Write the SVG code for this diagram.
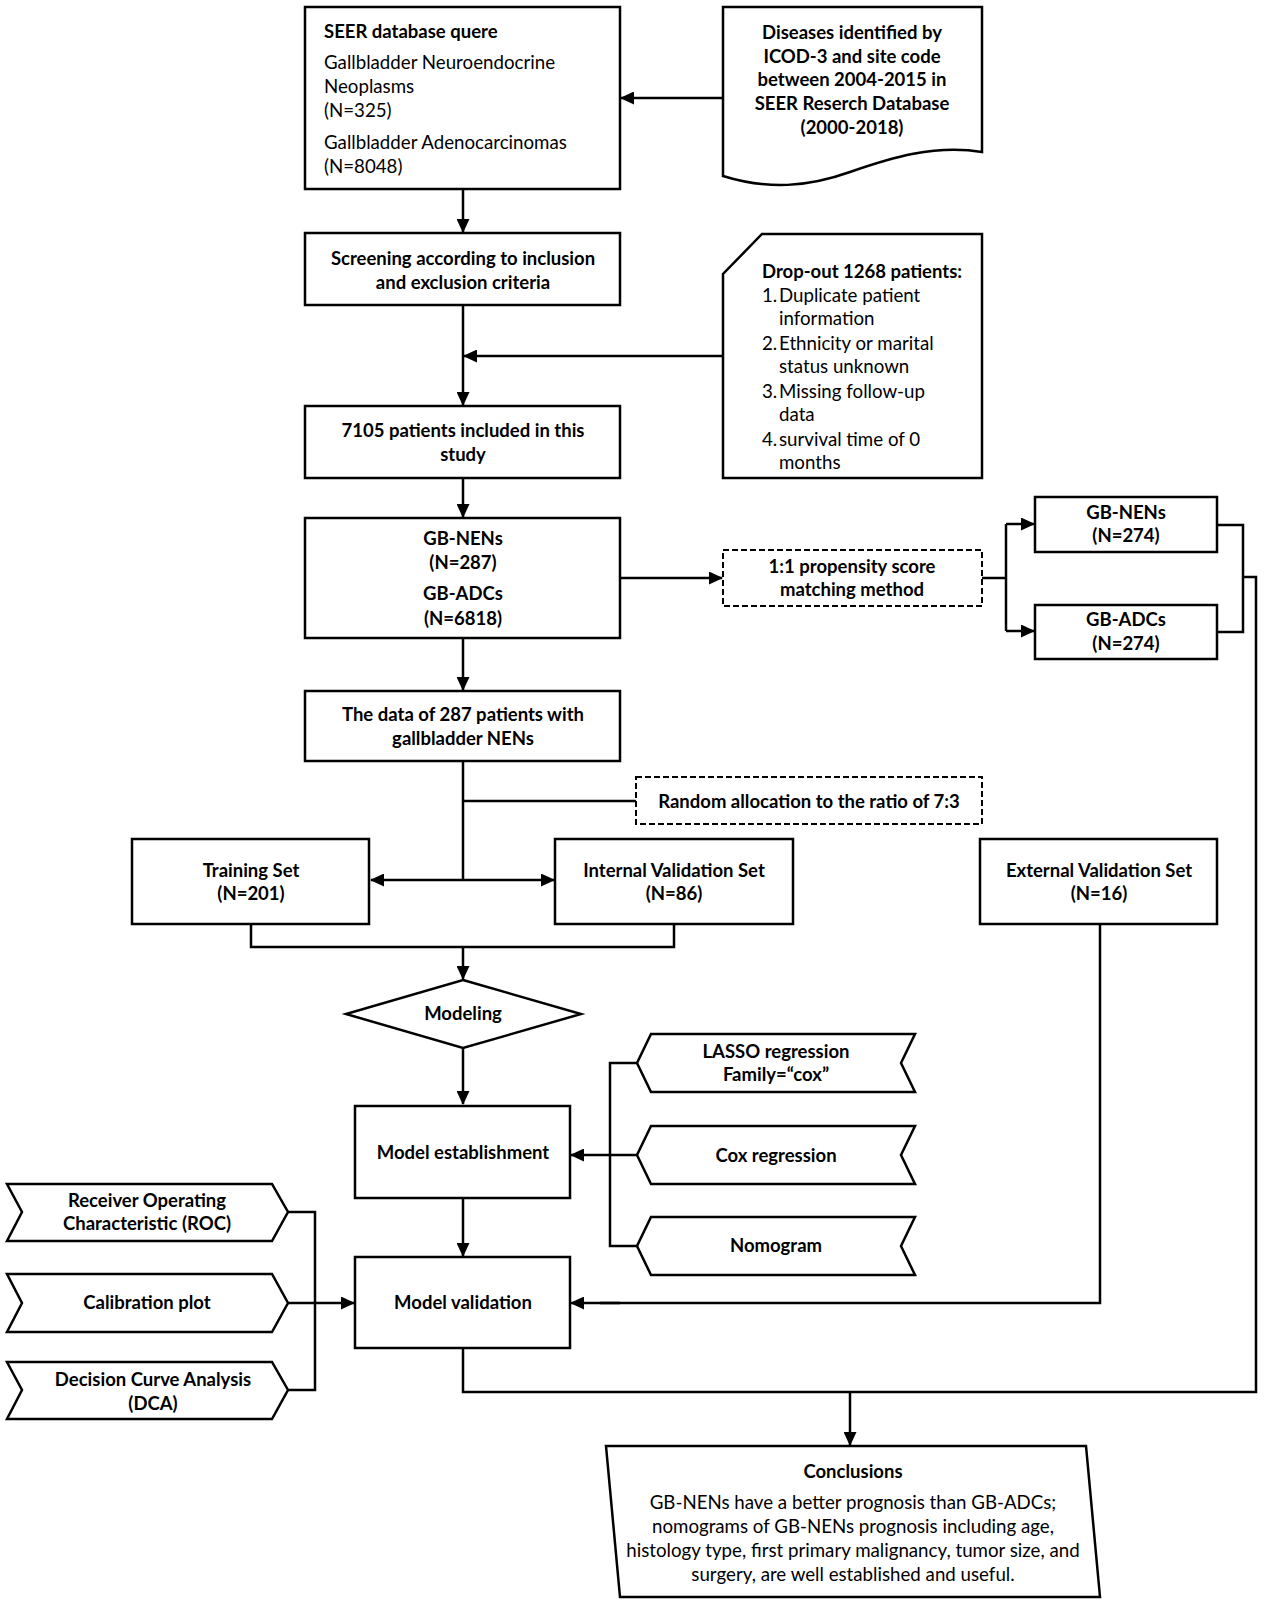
<svg xmlns="http://www.w3.org/2000/svg" width="1265" height="1606" viewBox="0 0 1265 1606">
<style>
.box{fill:#fff;stroke:#000;stroke-width:2.5}
.dash{fill:#fff;stroke:#000;stroke-width:2;stroke-dasharray:6 3}
.ln{fill:none;stroke:#000;stroke-width:2.5}
.b{font-family:Lato,"Liberation Sans",sans-serif;font-weight:bold;font-size:18.5px;fill:#000}
.r{font-family:Lato,"Liberation Sans",sans-serif;font-size:18.7px;fill:#000}
.c{text-anchor:middle}
</style>
<defs>
<marker id="ah" markerUnits="userSpaceOnUse" markerWidth="14" markerHeight="13" refX="13" refY="6.5" orient="auto-start-reverse" viewBox="0 0 14 13">
<path d="M0,0 L14,6.5 L0,13 Z" fill="#000"/>
</marker>
</defs>
<rect width="1265" height="1606" fill="#fff"/>

<g id="connectors">
<line class="ln" x1="723" y1="98" x2="621" y2="98" marker-end="url(#ah)"/>
<line class="ln" x1="463" y1="189" x2="463" y2="232" marker-end="url(#ah)"/>
<line class="ln" x1="463" y1="305" x2="463" y2="405" marker-end="url(#ah)"/>
<line class="ln" x1="723" y1="356" x2="464" y2="356" marker-end="url(#ah)"/>
<line class="ln" x1="463" y1="478" x2="463" y2="517" marker-end="url(#ah)"/>
<line class="ln" x1="620" y1="578" x2="722" y2="578" marker-end="url(#ah)"/>
<polyline class="ln" points="982,578 1006,578"/>
<polyline class="ln" points="1006,524 1006,631"/>
<line class="ln" x1="1006" y1="524" x2="1034" y2="524" marker-end="url(#ah)"/>
<line class="ln" x1="1006" y1="631" x2="1034" y2="631" marker-end="url(#ah)"/>
<polyline class="ln" points="1217,525 1243,525 1243,632 1217,632"/>
<polyline class="ln" points="1243,577 1256,577 1256,1392 463,1392 463,1348"/>
<line class="ln" x1="850" y1="1392" x2="850" y2="1445" marker-end="url(#ah)"/>
<line class="ln" x1="463" y1="638" x2="463" y2="690" marker-end="url(#ah)"/>
<polyline class="ln" points="463,761 463,880"/>
<line class="ln" x1="463" y1="801" x2="636" y2="801"/>
<line class="ln" x1="371" y1="880" x2="554" y2="880" marker-start="url(#ah)" marker-end="url(#ah)"/>
<polyline class="ln" points="251,924 251,947 674,947 674,924"/>
<line class="ln" x1="463" y1="947" x2="463" y2="979" marker-end="url(#ah)"/>
<line class="ln" x1="463" y1="1048" x2="463" y2="1104" marker-end="url(#ah)"/>
<line class="ln" x1="463" y1="1199" x2="463" y2="1256" marker-end="url(#ah)"/>
<polyline class="ln" points="637,1063 610,1063 610,1246 637,1246"/>
<line class="ln" x1="637" y1="1155" x2="571" y2="1155" marker-end="url(#ah)"/>
<polyline class="ln" points="288,1212 315,1212 315,1390 288,1390"/>
<line class="ln" x1="288" y1="1303" x2="354" y2="1303" marker-end="url(#ah)"/>
<polyline class="ln" points="1100,924 1100,1303 600,1303"/>
<line class="ln" x1="620" y1="1303" x2="571" y2="1303" marker-end="url(#ah)"/>
</g>

<g id="seer">
<rect class="box" x="305" y="7" width="315" height="182"/>
<text class="b" x="324" y="38">SEER database quere</text>
<text class="r" x="324" y="69">Gallbladder Neuroendocrine</text>
<text class="r" x="324" y="93">Neoplasms</text>
<text class="r" x="324" y="117">(N=325)</text>
<text class="r" x="324" y="149">Gallbladder Adenocarcinomas</text>
<text class="r" x="324" y="173">(N=8048)</text>
</g>

<g id="diseases">
<path class="box" d="M723,7 H982 V152 C935,144 890,158 850,172 C808,187 768,190 723,176 Z"/>
<text class="b c" x="852" y="39">Diseases identified by</text>
<text class="b c" x="852" y="63">ICOD-3 and site code</text>
<text class="b c" x="852" y="86">between 2004-2015 in</text>
<text class="b c" x="852" y="110">SEER Reserch Database</text>
<text class="b c" x="852" y="134">(2000-2018)</text>
</g>

<g id="screening">
<rect class="box" x="305" y="233" width="315" height="72"/>
<text class="b c" x="463" y="265">Screening according to inclusion</text>
<text class="b c" x="463" y="289">and exclusion criteria</text>
</g>

<g id="dropout">
<path class="box" d="M762,234 H982 V478 H723 V274 Z"/>
<text class="b" x="762" y="278">Drop-out 1268 patients:</text>
<text class="r" x="762" y="302">1.</text><text class="r" x="779" y="302">Duplicate patient</text>
<text class="r" x="779" y="325">information</text>
<text class="r" x="762" y="350">2.</text><text class="r" x="779" y="350">Ethnicity or marital</text>
<text class="r" x="779" y="373">status unknown</text>
<text class="r" x="762" y="398">3.</text><text class="r" x="779" y="398">Missing follow-up</text>
<text class="r" x="779" y="421">data</text>
<text class="r" x="762" y="446">4.</text><text class="r" x="779" y="446">survival time of 0</text>
<text class="r" x="779" y="469">months</text>
</g>

<g id="included">
<rect class="box" x="305" y="406" width="315" height="72"/>
<text class="b c" x="463" y="437">7105 patients included in this</text>
<text class="b c" x="463" y="461">study</text>
</g>

<g id="groups">
<rect class="box" x="305" y="518" width="315" height="120"/>
<text class="b c" x="463" y="545">GB-NENs</text>
<text class="b c" x="463" y="569">(N=287)</text>
<text class="b c" x="463" y="600">GB-ADCs</text>
<text class="b c" x="463" y="625">(N=6818)</text>
</g>

<g id="psm">
<rect class="dash" x="723" y="550" width="259" height="56"/>
<text class="b c" x="852" y="573">1:1 propensity score</text>
<text class="b c" x="852" y="596">matching method</text>
</g>

<g id="gbnens274">
<rect class="box" x="1035" y="497" width="182" height="55"/>
<text class="b c" x="1126" y="519">GB-NENs</text>
<text class="b c" x="1126" y="542">(N=274)</text>
</g>

<g id="gbadcs274">
<rect class="box" x="1035" y="605" width="182" height="54"/>
<text class="b c" x="1126" y="626">GB-ADCs</text>
<text class="b c" x="1126" y="650">(N=274)</text>
</g>

<g id="data287">
<rect class="box" x="305" y="691" width="315" height="70"/>
<text class="b c" x="463" y="721">The data of 287 patients with</text>
<text class="b c" x="463" y="745">gallbladder NENs</text>
</g>

<g id="random">
<rect class="dash" x="636" y="777" width="346" height="47"/>
<text class="b c" x="809" y="808">Random allocation to the ratio of 7:3</text>
</g>

<g id="training">
<rect class="box" x="132" y="839" width="237" height="85"/>
<text class="b c" x="251" y="877">Training Set</text>
<text class="b c" x="251" y="900">(N=201)</text>
</g>

<g id="internal">
<rect class="box" x="555" y="839" width="238" height="85"/>
<text class="b c" x="674" y="877">Internal Validation Set</text>
<text class="b c" x="674" y="900">(N=86)</text>
</g>

<g id="external">
<rect class="box" x="980" y="839" width="237" height="85"/>
<text class="b c" x="1099" y="877">External Validation Set</text>
<text class="b c" x="1099" y="900">(N=16)</text>
</g>

<g id="modeling">
<polygon class="box" points="463,980 581,1014 463,1048 346,1014"/>
<text class="b c" x="463" y="1020">Modeling</text>
</g>

<g id="establishment">
<rect class="box" x="355" y="1106" width="215" height="92"/>
<text class="b c" x="463" y="1159">Model establishment</text>
</g>

<g id="validation">
<rect class="box" x="355" y="1257" width="215" height="91"/>
<text class="b c" x="463" y="1309">Model validation</text>
</g>

<g id="lasso">
<polygon class="box" points="651,1034 915,1034 901,1063 915,1092 651,1092 637,1063"/>
<text class="b c" x="776" y="1058">LASSO regression</text>
<text class="b c" x="776" y="1081">Family=“cox”</text>
</g>

<g id="cox">
<polygon class="box" points="651,1126 915,1126 901,1155 915,1184 651,1184 637,1155"/>
<text class="b c" x="776" y="1162">Cox regression</text>
</g>

<g id="nomogram">
<polygon class="box" points="651,1217 915,1217 901,1246 915,1275 651,1275 637,1246"/>
<text class="b c" x="776" y="1252">Nomogram</text>
</g>

<g id="roc">
<polygon class="box" points="7,1184 272,1184 288,1212 272,1241 7,1241 22,1212"/>
<text class="b c" x="147" y="1207">Receiver Operating</text>
<text class="b c" x="147" y="1230">Characteristic (ROC)</text>
</g>

<g id="calibration">
<polygon class="box" points="7,1274 272,1274 288,1303 272,1332 7,1332 22,1303"/>
<text class="b c" x="147" y="1309">Calibration plot</text>
</g>

<g id="dca">
<polygon class="box" points="7,1362 272,1362 288,1390 272,1419 7,1419 22,1390"/>
<text class="b c" x="153" y="1386">Decision Curve Analysis</text>
<text class="b c" x="153" y="1410">(DCA)</text>
</g>

<g id="conclusions">
<polygon class="box" points="606,1446 1086,1446 1100,1597 620,1597"/>
<text class="b c" x="853" y="1478">Conclusions</text>
<text class="r c" x="853" y="1509">GB-NENs have a better prognosis than GB-ADCs;</text>
<text class="r c" x="853" y="1533">nomograms of GB-NENs prognosis including age,</text>
<text class="r c" x="853" y="1557">histology type, first primary malignancy, tumor size, and</text>
<text class="r c" x="853" y="1581">surgery, are well established and useful.</text>
</g>
</svg>
